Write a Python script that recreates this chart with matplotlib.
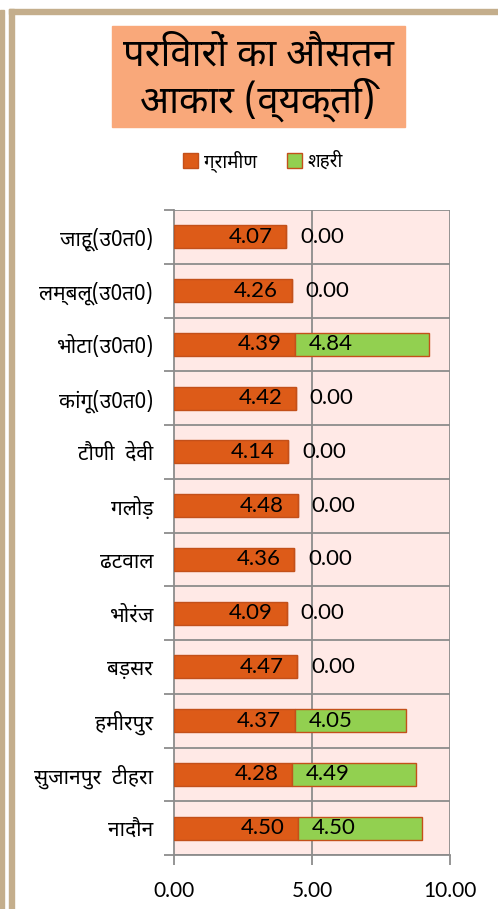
import matplotlib
matplotlib.use("Agg")
import matplotlib.pyplot as plt
from matplotlib import font_manager as fm
from matplotlib.ft2font import FT2Font
from matplotlib.patches import Rectangle
import numpy as np

# ---------------- data ----------------
categories = ["जाहू(उ0त0)", "लम्बलू(उ0त0)", "भोटा(उ0त0)", "कांगू(उ0त0)", "टौणी  देवी",
              "गलोड़", "ढटवाल", "भोरंज", "बड़सर", "हमीरपुर", "सुजानपुर  टीहरा", "नादौन"]
rural = [4.07, 4.26, 4.39, 4.42, 4.14, 4.48, 4.36, 4.09, 4.47, 4.37, 4.28, 4.50]
urban = [0.00, 0.00, 4.84, 0.00, 0.00, 0.00, 0.00, 0.00, 0.00, 4.05, 4.49, 4.50]
series_names = ["ग्रामीण", "शहरी"]
title_lines = ["परिवारों का औसतन", "आकार (व्यक्ति)"]
xticks = [0.0, 5.0, 10.0]

# ---------------- fonts ----------------
def find_dev_font():
    prefs = ["Noto Sans Devanagari", "Noto Sans Devanagari UI", "Mukta", "Hind", "Khula",
             "Palanquin", "Sarala", "Jaldi"]
    names = {f.name for f in fm.fontManager.ttflist}
    for p in prefs:
        if p in names:
            return p
    for f in fm.fontManager.ttflist:
        try:
            if 0x092A in FT2Font(f.fname).get_charmap():
                return f.name
        except Exception:
            pass
    return "DejaVu Sans"

DEV = find_dev_font()
LAT = "Lato"
dev_family = [DEV, "DejaVu Sans"]
num_family = [LAT, "DejaVu Sans"]

# ---------------- figure ----------------
W, H = 498, 909
fig = plt.figure(figsize=(W / 100, H / 100), dpi=100)
fig.patch.set_facecolor("white")

def fx(px):
    return px / W

def fy(py):
    return 1 - py / H

frame_c = "#C4AE8C"
fig.patches.append(Rectangle((fx(0), 0), fx(4), fy(10), transform=fig.transFigure,
                             color=frame_c, zorder=0))
fig.patches.append(Rectangle((fx(9), 0), fx(5), fy(9), transform=fig.transFigure,
                             color=frame_c, zorder=0))
fig.patches.append(Rectangle((fx(9), fy(14)), 1 - fx(9), fy(9) - fy(14),
                             transform=fig.transFigure, color=frame_c, zorder=0))

# title box
fig.patches.append(Rectangle((fx(112), fy(127)), fx(405) - fx(112), fy(26) - fy(127),
                             transform=fig.transFigure, color="#F9A87A", zorder=1))
fig.text(fx(258), fy(55), title_lines[0], ha="center", va="center", fontsize=27.5,
         family=dev_family, color="black", zorder=2)
fig.text(fx(258), fy(100), title_lines[1], ha="center", va="center", fontsize=27.5,
         family=dev_family, color="black", zorder=2)

# axes
ax_l, ax_r, ax_t, ax_b = 174, 450, 210, 855
ax = fig.add_axes([fx(ax_l), fy(ax_b), fx(ax_r - ax_l), fy(ax_t) - fy(ax_b)])
ax.set_facecolor("#FFE9E6")

rural_c = "#DD5B18"
urban_c = "#92D050"
edge_c = "#C3501A"

y = np.arange(len(categories))
bh = 0.43
ax.barh(y, rural, height=bh, color=rural_c, edgecolor=edge_c, linewidth=1, zorder=3,
        label=series_names[0])
ax.barh(y, urban, left=rural, height=bh, color=urban_c, edgecolor=edge_c, linewidth=1,
        zorder=3, label=series_names[1])

ax.set_xlim(0, 10)
ax.set_ylim(len(categories) - 0.5, -0.5)

# value labels
pad = 0.5
for i in range(len(categories)):
    ax.text(rural[i] - pad, y[i], f"{rural[i]:.2f}", ha="right", va="center",
            fontsize=16, family=num_family, color="black", zorder=4)
    ax.text(rural[i] + pad, y[i], f"{urban[i]:.2f}", ha="left", va="center",
            fontsize=16, family=num_family, color="black", zorder=4)

# gridlines
grid_c = "#8C8C8C"
for xv in xticks[1:]:
    ax.axvline(xv, color=grid_c, linewidth=1.3, zorder=2)
for b in np.arange(-0.5, len(categories), 1.0):
    ax.axhline(b, color=grid_c, linewidth=1.3, zorder=2)

for s in ["top", "right"]:
    ax.spines[s].set_visible(False)
for s in ["left", "bottom"]:
    ax.spines[s].set_color(grid_c)
    ax.spines[s].set_linewidth(1.3)

ax.set_xticks(xticks)
ax.set_xticklabels([f"{v:.2f}" for v in xticks], fontsize=15, family=num_family)
ax.tick_params(axis="x", length=7, width=1.3, color=grid_c, pad=12)

ax.set_yticks(np.arange(-0.5, len(categories), 1.0))
ax.set_yticklabels([])
ax.set_yticks(y, minor=True)
ax.set_yticklabels(categories, minor=True, fontsize=15, family=dev_family)
ax.tick_params(axis="y", which="major", length=7, width=1.3, color=grid_c)
ax.tick_params(axis="y", which="minor", length=0, pad=15)

# legend
leg = fig.legend(loc="center", bbox_to_anchor=(fx(263), fy(161)), ncol=2, frameon=False,
                 prop=fm.FontProperties(family=dev_family, size=13.5),
                 handlelength=0.8, handleheight=0.8, handletextpad=0.3, columnspacing=1.6)

fig.savefig("out.png", dpi=100, facecolor="white")
